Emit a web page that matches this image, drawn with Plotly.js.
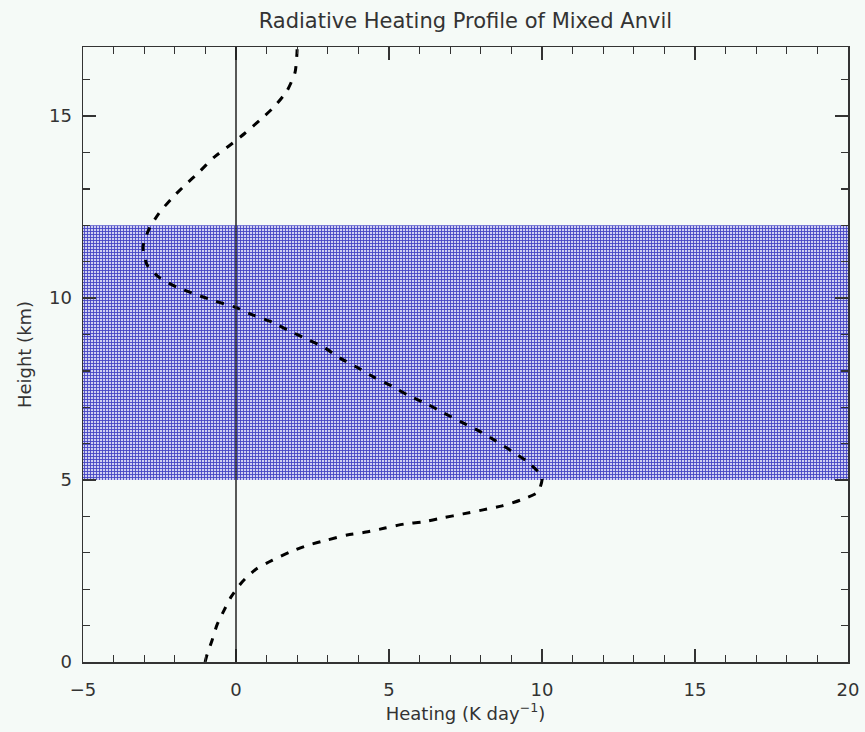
<!DOCTYPE html>
<html>
<head>
<meta charset="utf-8">
<script src="https://cdn.plot.ly/plotly-3.0.1.min.js"></script>
<style>html,body{margin:0;padding:0;background:#f5faf7;}</style>
</head>
<body>
<div id="chart" style="width:865px;height:732px;"></div>
<script>
// Heating rate (K/day) vs height (km)
const heating = [-1.01, -0.95, -0.78, -0.62, -0.42, -0.16, 0.2, 0.65, 1.2, 1.76, 2.35, 2.97, 3.63, 4.25, 4.87, 5.49, 6.1, 6.76, 7.42, 8.07, 8.7, 9.3, 9.87, 10.0, 9.97, 9.5, 9.0, 8.5, 7.94, 7.42, 6.8, 6.24, 5.62, 5.1, 4.5, 3.95, 3.4, 2.91, 2.32, 1.76, 1.18, 0.56, -0.03, -0.69, -1.31, -1.93, -2.48, -2.9, -3.04, -2.84, -2.52, -2.09, -1.67, -1.21, -0.72, -0.2, 0.29, 0.78, 1.24, 1.67, 1.93, 1.99, 2.0];
const height  = [0.0, 0.19, 0.6, 1.02, 1.37, 1.79, 2.2, 2.55, 2.8, 3.02, 3.21, 3.35, 3.49, 3.57, 3.68, 3.79, 3.85, 3.96, 4.07, 4.18, 4.29, 4.45, 4.67, 5.0, 5.14, 5.52, 5.8, 6.07, 6.35, 6.57, 6.84, 7.09, 7.33, 7.58, 7.83, 8.1, 8.35, 8.63, 8.87, 9.09, 9.34, 9.53, 9.75, 9.92, 10.1, 10.3, 10.55, 10.9, 11.4, 11.9, 12.33, 12.75, 13.1, 13.46, 13.87, 14.2, 14.53, 14.89, 15.25, 15.7, 16.2, 16.7, 16.9];
// Anvil layer bounds (km)
const anvilBase = 5;
const anvilTop = 12;
const xRange = [-5, 20];
const yRange = [0, 16.9];
const xTickVals = [-5, 0, 5, 10, 15, 20];
const yTickVals = [0, 5, 10, 15];

const axisColor = '#333333';
const fontFam = 'DejaVu Sans, Liberation Sans, sans-serif';

const shade = {
  x: [xRange[0] - 0.15, xRange[1], xRange[1], xRange[0] - 0.15, xRange[0] - 0.15],
  y: [anvilBase, anvilBase, anvilTop, anvilTop, anvilBase],
  type: 'scatter', mode: 'lines', fill: 'toself',
  line: {width: 0},
  fillcolor: 'rgba(0,0,0,0)',
  fillpattern: {shape: '+', size: 3, solidity: 0.5, fgcolor: '#4444c4', bgcolor: '#cfcff1'},
  hoverinfo: 'skip', showlegend: false, cliponaxis: false
};

const curve = {
  x: heating, y: height, type: 'scatter', mode: 'lines',
  line: {color: '#000000', width: 3, dash: '8px,9px', shape: 'spline', smoothing: 0.6},
  showlegend: false
};

const axisCommon = {
  showgrid: false, zeroline: false, showline: true, linecolor: axisColor, linewidth: 1.5,
  mirror: 'ticks', ticks: 'inside', ticklen: 13, tickwidth: 1.3, tickcolor: axisColor,
  tickfont: {family: fontFam, size: 18, color: axisColor},
  minor: {dtick: 1, ticks: 'inside', ticklen: 7, tickwidth: 1.3, tickcolor: axisColor}
};

const layout = {
  width: 865, height: 732,
  paper_bgcolor: '#f5faf7', plot_bgcolor: '#f5faf7',
  margin: {l: 83, r: 17, t: 47, b: 70},
  title: {text: 'Radiative Heating Profile of Mixed Anvil', x: 0.538, xanchor: 'center', y: 0.972, yanchor: 'middle',
          font: {family: fontFam, size: 21, color: axisColor}},
  xaxis: Object.assign({}, axisCommon, {
    range: xRange, tickvals: xTickVals, ticktext: xTickVals.map(v => v < 0 ? '\u2212' + Math.abs(v) : String(v)),
    ticklabelstandoff: 11,
    title: {text: 'Heating (K day<sup>\u22121</sup>)', standoff: 4, font: {family: fontFam, size: 18, color: axisColor}}
  }),
  yaxis: Object.assign({}, axisCommon, {
    range: yRange, tickvals: yTickVals,
    ticklabelstandoff: 6,
    title: {text: 'Height (km)', standoff: 12, font: {family: fontFam, size: 18, color: axisColor}}
  }),
  shapes: [{
    type: 'line', xref: 'x', yref: 'paper', x0: 0, x1: 0, y0: 0, y1: 1,
    line: {color: '#222222', width: 1.5}, layer: 'above'
  }]
};

Plotly.newPlot('chart', [shade, curve], layout, {displayModeBar: false, staticPlot: true});
</script>
</body>
</html>
